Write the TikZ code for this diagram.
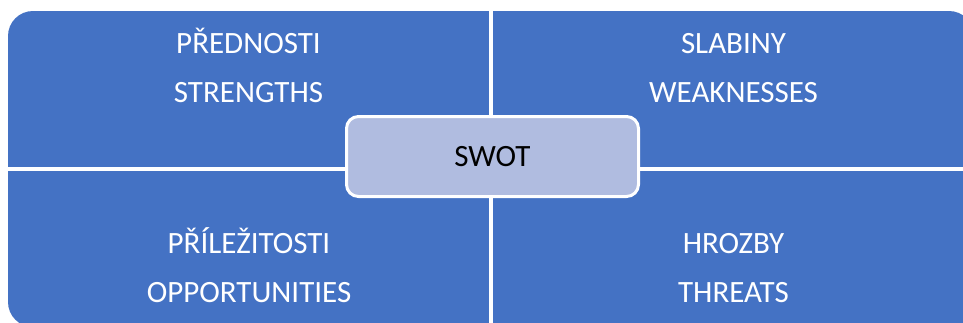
\documentclass[tikz,border=0pt]{standalone}
\usepackage{fontspec}
\setmainfont{Carlito}
\definecolor{swotblue}{RGB}{68,114,196}
\definecolor{swotlight}{RGB}{176,188,224}
\begin{document}
\begin{tikzpicture}[x=1pt, y=-1pt, font=\fontsize{31}{49}\selectfont]
\tikzstyle{matrixbg} = [fill=swotblue, rounded corners=25pt]
\tikzstyle{gap} = [draw=white, line width=4pt]
\tikzstyle{swottext} = [text=white, align=center, anchor=base, inner sep=0pt]
\tikzstyle{centerbox} = [draw=white, line width=3pt, fill=swotlight, rounded corners=12pt,
  minimum width=292pt, minimum height=80pt, text=black, inner sep=0pt]

\useasboundingbox (0,0) rectangle (963,322);
\clip (0,0) rectangle (963,322);
\fill[white] (0,0) rectangle (963,322);

\path[matrixbg] (8,11) rectangle (974,327);
\draw[gap] (491,0) -- (491,330);
\draw[gap] (0,169) -- (980,169);

\node[swottext] (strengths) at (248.5,102) {PŘEDNOSTI\\STRENGTHS};
\node[swottext] (weaknesses) at (733.5,102) {SLABINY\\WEAKNESSES};
\node[swottext] (opportunities) at (249,302) {PŘÍLEŽITOSTI\\OPPORTUNITIES};
\node[swottext] (threats) at (733.5,302) {HROZBY\\THREATS};

\node[centerbox] (swot) at (492.5,156.5) {SWOT};
\end{tikzpicture}
\end{document}
